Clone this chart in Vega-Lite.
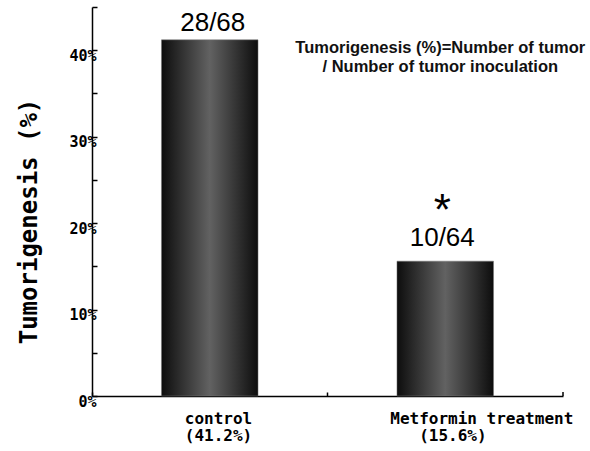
{
  "$schema": "https://vega.github.io/schema/vega-lite/v6.json",
  "autosize": "none",
  "width": 471,
  "height": 389,
  "padding": {"left": 92, "top": 7, "right": 27, "bottom": 55},
  "background": "white",
  "config": {"view": {"stroke": null}},
  "datasets": {
    "bars": [
      {"group": "control", "value": 41.2, "frac": "28/68", "star": ""},
      {"group": "Metformin treatment", "value": 15.6, "frac": "10/64", "star": "*"}
    ],
    "note": [{"group": "Metformin treatment", "pos": 40.26, "note": "Tumorigenesis (%)=Number of tumor\n/ Number of tumor inoculation"}]
  },
  "data": {"name": "bars"},
  "layer": [
    {
      "mark": {
        "type": "bar",
        "width": {"band": 0.41},
        "color": {
          "gradient": "linear", "x1": 0, "y1": 0, "x2": 1, "y2": 0,
          "stops": [
            {"offset": 0, "color": "#0d0d0d"},
            {"offset": 0.5, "color": "#626262"},
            {"offset": 1, "color": "#0d0d0d"}
          ]
        },
        "stroke": "#777777", "strokeWidth": 0.5
      },
      "encoding": {
        "x": {
          "field": "group", "type": "nominal", "sort": ["control", "Metformin treatment"],
          "scale": {"domain": ["control", "Metformin treatment"], "paddingInner": 0, "paddingOuter": 0},
          "axis": {
            "title": null,
            "bandPosition": 0,
            "labelAngle": 0,
            "domainColor": "black", "domainWidth": 1.5,
            "tickColor": "black", "tickWidth": 1.5, "tickSize": -4,
            "labelFont": "DejaVu Sans Mono", "labelFontWeight": "bold", "labelFontSize": 16,
            "labelColor": "black", "labelLineHeight": 17, "labelPadding": 18,
            "labelAlign": "left", "labelBaseline": "top", "labelLimit": 0,
            "labelOffset": {"condition": {"test": "datum.value == 'control'", "value": -25}, "value": -55},
            "labelExpr": "datum.value == 'control' ? ['control', '(41.2%)'] : ['Metformin treatment', '\u200b\u00a0\u00a0\u00a0(15.6%)']"
          }
        },
        "y": {
          "field": "value", "type": "quantitative",
          "scale": {"domain": [0, 45], "nice": false},
          "axis": {
            "title": "Tumorigenesis (%)",
            "values": [0, 5, 10, 15, 20, 25, 30, 35, 40, 45],
            "labelExpr": "datum.value % 10 == 0 ? datum.value + '%' : ''",
            "grid": false,
            "domainColor": "black", "domainWidth": 1.5,
            "tickColor": "black", "tickWidth": 1.5, "tickSize": -5,
            "labelFont": "DejaVu Sans Mono", "labelFontWeight": "bold", "labelFontSize": 15,
            "labelColor": "black", "labelPadding": 1, "labelBaseline": "middle", "labelOffset": 5,
            "titleFont": "DejaVu Sans Mono", "titleFontWeight": "bold", "titleFontSize": 24,
            "titleColor": "black", "titleAngle": 270, "titleAlign": "center", "titleBaseline": "middle",
            "titleX": -63, "titleY": 214
          }
        }
      }
    },
    {
      "transform": [{"filter": "datum.group == 'control'"}],
      "mark": {"type": "text", "font": "Liberation Sans", "fontSize": 26, "baseline": "alphabetic", "dy": -9, "dx": 3, "color": "black"},
      "encoding": {
        "x": {"field": "group", "type": "nominal"},
        "y": {"field": "value", "type": "quantitative"},
        "text": {"field": "frac"}
      }
    },
    {
      "transform": [{"filter": "datum.group != 'control'"}],
      "mark": {"type": "text", "font": "Liberation Sans", "fontSize": 26, "baseline": "alphabetic", "dy": -15, "dx": -3, "color": "black"},
      "encoding": {
        "x": {"field": "group", "type": "nominal"},
        "y": {"field": "value", "type": "quantitative"},
        "text": {"field": "frac"}
      }
    },
    {
      "transform": [{"filter": "datum.star != ''"}],
      "mark": {"type": "text", "font": "Liberation Sans", "fontSize": 44, "baseline": "alphabetic", "dy": -36, "dx": -3, "color": "black"},
      "encoding": {
        "x": {"field": "group", "type": "nominal"},
        "y": {"field": "value", "type": "quantitative"},
        "text": {"field": "star"}
      }
    },
    {
      "data": {"name": "note"},
      "mark": {"type": "text", "font": "Liberation Sans", "fontWeight": "bold", "fontSize": 16.5, "lineBreak": "\n", "lineHeight": 19, "baseline": "middle", "align": "center", "dx": -5, "color": "#111111"},
      "encoding": {
        "x": {"field": "group", "type": "nominal"},
        "y": {"field": "pos", "type": "quantitative"},
        "text": {"field": "note"}
      }
    },
    {
      "data": {"name": "note"},
      "mark": {"type": "rule", "color": "black", "strokeWidth": 1.5},
      "encoding": {
        "x": {"field": "group", "type": "nominal", "bandPosition": 1},
        "y": {"datum": 0},
        "y2": {"datum": 0.46}
      }
    }
  ]
}
